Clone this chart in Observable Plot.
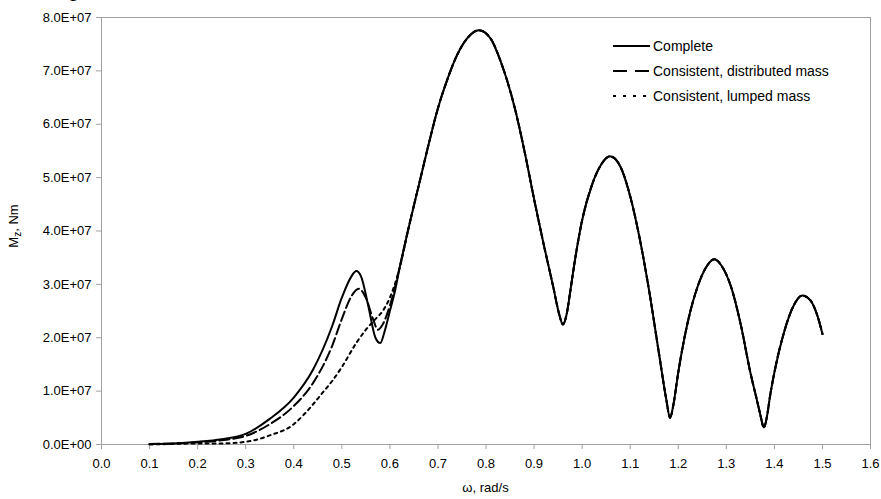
<!DOCTYPE html>
<html><head><meta charset="utf-8">
<script src="https://cdn.jsdelivr.net/npm/d3@7"></script>
<script src="https://cdn.jsdelivr.net/npm/@observablehq/plot@0.6"></script>
<style>
body{margin:0;background:#fff;}
#wrap{position:relative;width:881px;height:499px;overflow:hidden;font-family:"Liberation Sans",Arial,sans-serif;background:#fff;}
#cut{position:absolute;left:0;top:0;width:881px;height:5px;overflow:hidden;z-index:2;}
#cut span{position:absolute;font-family:"Liberation Serif",serif;font-size:26px;line-height:1;top:-25px;color:#000;}
#legend{position:absolute;left:613px;top:33px;font-size:14px;color:#000;z-index:2;}
.row{display:flex;align-items:center;height:25px;white-space:nowrap;}
.row svg{margin-right:2px;}
</style></head>
<body>
<div id="wrap">
  <div id="cut"><span style="left:70px">p</span><span style="left:163px">[13]</span></div>
  <div id="legend"></div>
</div>
<script>
// ---- data (values in units of 1E+07 Nm) ----
const seriesNames = ["Complete", "Consistent, distributed mass", "Consistent, lumped mass"];

const omegaCompleteHead = [0.10,0.15,0.20,0.25,0.30,0.35,0.40,0.44,0.48,0.50,0.52,0.53,0.54,0.555,0.57,0.58,0.59,0.60,0.61,0.62];
const mCompleteHead     = [0.01,0.02,0.05,0.10,0.20,0.48,0.88,1.40,2.22,2.75,3.15,3.25,3.15,2.60,2.00,1.90,2.15,2.50,2.85,3.30];

const omegaDistributedHead = [0.10,0.15,0.20,0.25,0.30,0.35,0.40,0.44,0.48,0.50,0.52,0.535,0.55,0.565,0.575,0.585,0.60,0.62];
const mDistributedHead     = [0.01,0.02,0.04,0.08,0.16,0.38,0.72,1.15,1.85,2.35,2.78,2.92,2.75,2.35,2.15,2.25,2.60,3.30];

const omegaLumpedHead = [0.10,0.15,0.20,0.25,0.30,0.35,0.40,0.42,0.44,0.46,0.48,0.50,0.53,0.55,0.57,0.585,0.60,0.62];
const mLumpedHead     = [0.00,0.01,0.02,0.02,0.05,0.17,0.38,0.55,0.75,0.97,1.19,1.45,1.90,2.15,2.35,2.50,2.75,3.30];

// above ~0.63 rad/s all three curves coincide
const omegaShared = [0.64,0.66,0.68,0.70,0.72,0.74,0.76,0.785,0.81,0.83,0.86,0.88,0.90,0.92,0.94,0.952,0.96,0.968,0.975,0.985,1.00,1.02,1.04,1.058,1.08,1.10,1.12,1.14,1.16,1.175,1.183,1.19,1.20,1.22,1.24,1.26,1.275,1.29,1.31,1.33,1.35,1.364,1.371,1.378,1.386,1.39,1.40,1.42,1.44,1.458,1.475,1.49,1.50];
const mShared     = [4.10,4.85,5.60,6.30,6.85,7.30,7.60,7.76,7.60,7.19,6.30,5.50,4.60,3.75,2.95,2.45,2.25,2.45,2.85,3.45,4.20,4.85,5.25,5.40,5.20,4.65,3.85,2.85,1.70,0.85,0.50,0.75,1.35,2.30,2.95,3.35,3.47,3.35,2.95,2.25,1.35,0.82,0.55,0.32,0.60,0.85,1.35,2.10,2.60,2.79,2.70,2.40,2.07];

const xTicks = [0.0,0.1,0.2,0.3,0.4,0.5,0.6,0.7,0.8,0.9,1.0,1.1,1.2,1.3,1.4,1.5,1.6];
const yTicks = [0,1e7,2e7,3e7,4e7,5e7,6e7,7e7,8e7];

// ---- build tables ----
function build(name, om, m) {
  const o = om.concat(omegaShared), v = m.concat(mShared);
  return o.map((w, i) => ({series: name, omega: w, m: v[i] * 1e7}));
}
const complete = build(seriesNames[0], omegaCompleteHead, mCompleteHead);
const distributed = build(seriesNames[1], omegaDistributedHead, mDistributedHead);
const lumped = build(seriesNames[2], omegaLumpedHead, mLumpedHead);

const fmtE = d => {
  if (d === 0) return "0.0E+00";
  const e = Math.floor(Math.log10(Math.abs(d)));
  return (d / 10 ** e).toFixed(1) + "E+" + String(e).padStart(2, "0");
};

const plot = Plot.plot({
  width: 881, height: 499,
  marginLeft: 101, marginRight: 11, marginTop: 17, marginBottom: 55,
  style: {fontFamily: '"Liberation Sans", Arial, sans-serif', fontSize: "13px", color: "#000", background: "#fff"},
  x: {domain: [0, 1.6]},
  y: {domain: [0, 8e7]},
  marks: [
    Plot.frame({stroke: "#a0a0a0"}),
    Plot.axisX({ticks: xTicks, tickFormat: d => d.toFixed(1), tickSize: 5, tickPadding: 9, stroke: "#a0a0a0", label: null}),
    Plot.axisY({ticks: yTicks, tickFormat: fmtE, tickSize: 5, tickPadding: 5, stroke: "#a0a0a0", label: null}),
    Plot.line(complete, {x: "omega", y: "m", stroke: "#000", strokeWidth: 2, curve: "monotone-x"}),
    Plot.line(distributed, {x: "omega", y: "m", stroke: "#000", strokeWidth: 2, strokeDasharray: "10,4", curve: "monotone-x"}),
    Plot.line(lumped, {x: "omega", y: "m", stroke: "#000", strokeWidth: 2, strokeDasharray: "3,4", curve: "monotone-x"})
  ]
});

const wrap = document.getElementById("wrap");
wrap.insertBefore(plot, wrap.firstChild);

// axis titles
const svg = d3.select(plot);
const yl = svg.append("text")
  .attr("transform", "translate(18,226) rotate(-90)")
  .attr("text-anchor", "middle")
  .attr("font-size", 13)
  .attr("fill", "#000");
yl.append("tspan").text("M");
yl.append("tspan").attr("font-size", 10).attr("dy", 3).text("z");
yl.append("tspan").attr("dy", -3).text(", Nm");

svg.append("text")
  .attr("x", 485.5).attr("y", 492)
  .attr("text-anchor", "middle")
  .attr("font-size", 13)
  .attr("fill", "#000")
  .text("ω, rad/s");

// legend
const legend = d3.select("#legend");
seriesNames.forEach((name, i) => {
  const row = legend.append("div").attr("class", "row");
  const s = row.append("svg").attr("width", 38).attr("height", 10);
  s.append("line").attr("x1", 0).attr("x2", 37).attr("y1", 5).attr("y2", 5)
    .attr("stroke", "#000").attr("stroke-width", 2)
    .attr("stroke-dasharray", i === 0 ? null : (i === 1 ? "14,8" : "3,7"));
  row.append("span").text(name);
});
</script>
</body></html>
